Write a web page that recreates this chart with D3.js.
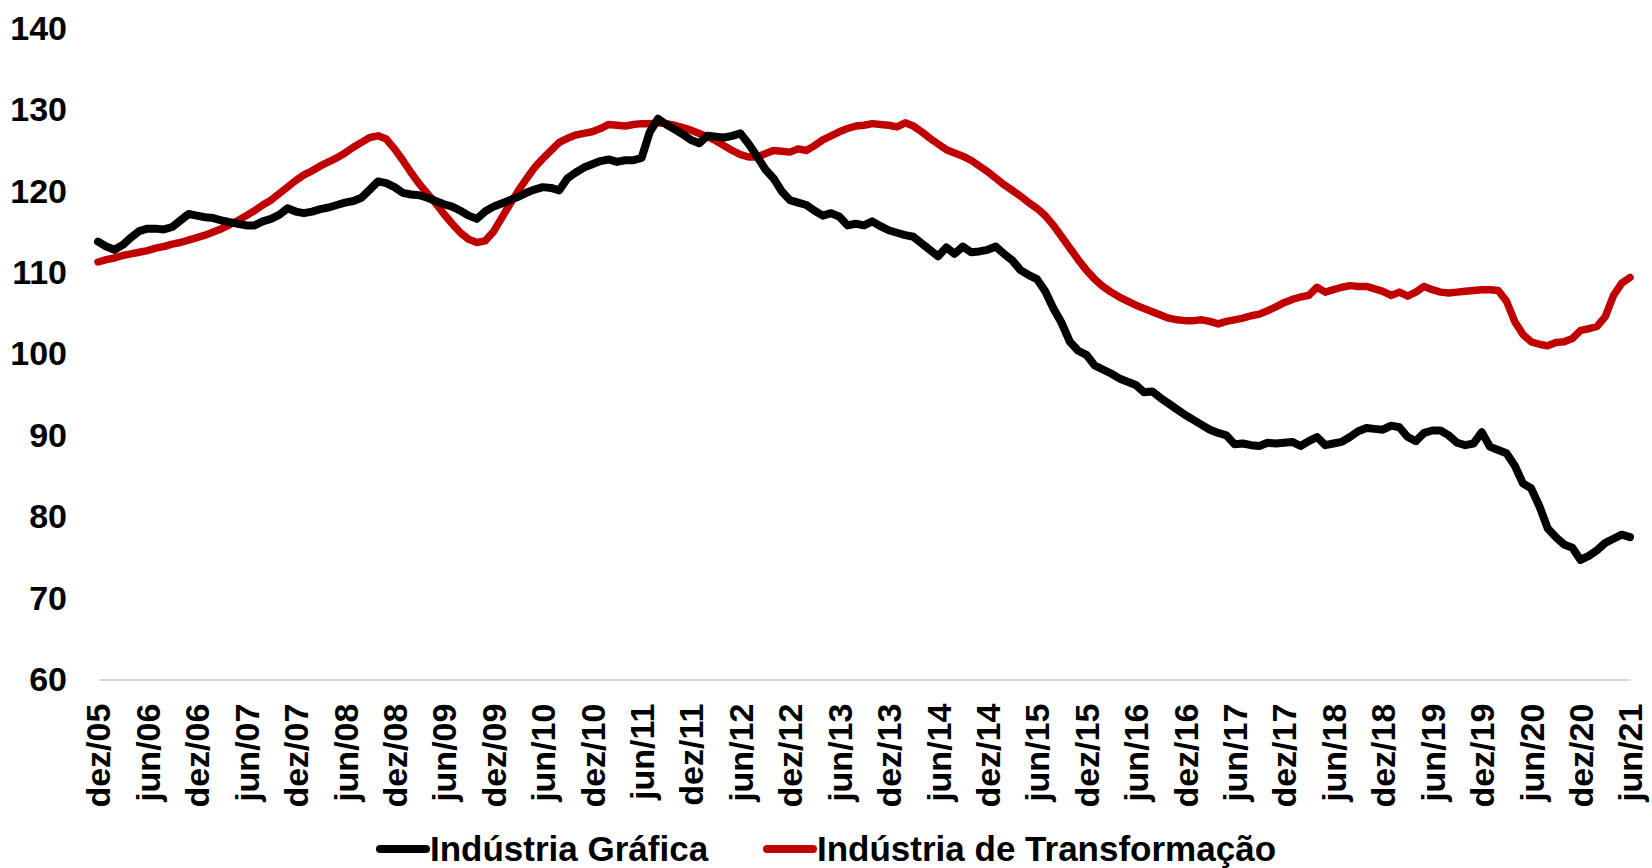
<!DOCTYPE html>
<html>
<head>
<meta charset="utf-8">
<script src="https://cdn.jsdelivr.net/npm/d3@7"></script>
<style>
  body { margin: 0; background: #fff; }
  text { font-family: "Liberation Sans", Arial, sans-serif; font-weight: bold; fill: #000; }
</style>
</head>
<body>
<script>

// monthly index, dez/05 .. jun/21
var graficaValues = [
    113.8, 113.2, 112.8, 113.4, 114.3, 115.1, 115.4, 115.4, 115.3, 115.6, 116.4, 117.2,
    117.0, 116.8, 116.7, 116.4, 116.2, 116.0, 115.8, 115.8, 116.3, 116.6, 117.1, 117.9,
    117.5, 117.3, 117.5, 117.8, 118.0, 118.3, 118.6, 118.8, 119.2, 120.2, 121.2, 121.0,
    120.5, 119.8, 119.6, 119.5, 119.2, 118.8, 118.4, 118.1, 117.6, 117.0, 116.6, 117.5,
    118.1, 118.5, 118.9, 119.3, 119.8, 120.2, 120.5, 120.4, 120.1, 121.6, 122.3, 122.9,
    123.3, 123.7, 123.9, 123.6, 123.8, 123.8, 124.1, 127.3, 128.9, 128.2, 127.6, 127.0,
    126.3, 125.9, 126.8, 126.7, 126.6, 126.8, 127.1, 125.8, 124.3, 122.7, 121.6, 120.0,
    118.9, 118.6, 118.3, 117.6, 117.0, 117.3, 116.9, 115.8, 116.0, 115.8, 116.3, 115.7,
    115.2, 114.9, 114.6, 114.4, 113.6, 112.8, 112.0, 113.1, 112.3, 113.2, 112.5, 112.6,
    112.8, 113.2, 112.3, 111.5, 110.3, 109.7, 109.2, 107.7, 105.6, 103.8, 101.5, 100.4,
    99.9, 98.6, 98.1, 97.6, 97.0, 96.6, 96.2, 95.3, 95.4, 94.6, 93.9, 93.2,
    92.5, 91.9, 91.3, 90.7, 90.3, 90.0, 88.9, 89.0, 88.8, 88.7, 89.1, 89.0,
    89.1, 89.2, 88.7, 89.3, 89.8, 88.8, 89.0, 89.2, 89.8, 90.5, 90.9, 90.8,
    90.7, 91.2, 91.0, 89.8, 89.3, 90.3, 90.6, 90.6, 90.0, 89.1, 88.8, 89.0,
    90.4, 88.6, 88.2, 87.8, 86.3, 84.1, 83.5, 81.3, 78.6, 77.5, 76.6, 76.2,
    74.7, 75.2, 75.9, 76.8, 77.3, 77.8, 77.5
];

var transformacaoValues = [
    111.3, 111.6, 111.8, 112.1, 112.3, 112.5, 112.7, 113.0, 113.2, 113.5, 113.7, 114.0,
    114.3, 114.6, 115.0, 115.4, 115.9, 116.4, 117.0, 117.6, 118.3, 118.9, 119.7, 120.5,
    121.3, 122.0, 122.5, 123.1, 123.6, 124.1, 124.7, 125.4, 126.0, 126.6, 126.8, 126.4,
    125.2, 123.8, 122.3, 120.9, 119.7, 118.5, 117.2, 116.0, 114.9, 114.1, 113.7, 113.9,
    115.0, 116.7, 118.4, 120.0, 121.5, 122.9, 124.0, 125.0, 126.0, 126.5, 126.9, 127.1,
    127.3, 127.7, 128.2, 128.1, 128.0, 128.2, 128.3, 128.3, 128.4, 128.3, 128.1, 127.8,
    127.5, 127.1, 126.7, 126.2, 125.6, 125.0, 124.5, 124.2, 124.2, 124.6, 125.0, 124.9,
    124.8, 125.2, 125.0, 125.6, 126.3, 126.8, 127.3, 127.7, 128.0, 128.1, 128.3, 128.2,
    128.1, 127.9, 128.4, 128.0, 127.3, 126.5, 125.8, 125.1, 124.7, 124.3, 123.8, 123.1,
    122.4, 121.6, 120.8, 120.1, 119.4, 118.6, 117.9, 117.0, 115.8, 114.4, 113.0, 111.6,
    110.3, 109.2, 108.3, 107.6, 107.0, 106.5, 106.0, 105.6, 105.2, 104.8, 104.4, 104.2,
    104.1, 104.1, 104.2, 104.0, 103.7, 104.0, 104.2, 104.4, 104.7, 104.9, 105.3, 105.8,
    106.3, 106.7, 107.0, 107.2, 108.2, 107.6, 107.9, 108.2, 108.4, 108.3, 108.3, 108.0,
    107.7, 107.2, 107.6, 107.1, 107.6, 108.3, 107.9, 107.6, 107.5, 107.6, 107.7, 107.8,
    107.9, 107.9, 107.8, 106.5, 104.0, 102.4, 101.5, 101.2, 101.0, 101.4, 101.5, 101.9,
    102.9, 103.1, 103.4, 104.6, 107.2, 108.7, 109.4
];

var tickLabels = [
    "dez/05", "jun/06", "dez/06", "jun/07", "dez/07", "jun/08", "dez/08", "jun/09",
    "dez/09", "jun/10", "dez/10", "jun/11", "dez/11", "jun/12", "dez/12", "jun/13",
    "dez/13", "jun/14", "dez/14", "jun/15", "dez/15", "jun/16", "dez/16", "jun/17",
    "dez/17", "jun/18", "dez/18", "jun/19", "dez/19", "jun/20", "dez/20", "jun/21"
];

var yTicks = [60, 70, 80, 90, 100, 110, 120, 130, 140];

var seriesNames = ["Indústria Gráfica", "Indústria de Transformação"];
var seriesColors = ["#000000", "#c00000"];

// month categories from dez/05 to jun/21
var monthNames = ["jan", "fev", "mar", "abr", "mai", "jun", "jul", "ago", "set", "out", "nov", "dez"];
var months = [];
for (var i = 0; i < graficaValues.length; i++) {
    var k = 11 + i;
    var yy = 5 + Math.floor(k / 12);
    months.push(monthNames[k % 12] + "/" + (yy < 10 ? "0" + yy : "" + yy));
}

var width = 1652,
    height = 868;

var svg = d3.select("body").append("svg")
    .attr("width", width)
    .attr("height", height);

var x = d3.scalePoint()
    .domain(months)
    .range([98, 1630]);

var y = d3.scaleLinear()
    .domain([60, 140])
    .range([679.6, 28.4]);

// x axis
var xAxis = svg.append("g")
    .attr("transform", "translate(0," + y(60) + ")")
    .call(d3.axisBottom(x).tickValues(tickLabels).tickSize(0).tickSizeOuter(0).tickPadding(0));

xAxis.select(".domain")
    .attr("stroke", "#d9d9d9")
    .attr("stroke-width", 2);

xAxis.selectAll("text")
    .attr("transform", "rotate(-90)")
    .attr("text-anchor", "end")
    .attr("x", -24)
    .attr("y", 0)
    .attr("dy", "0.35em")
    .style("font-size", "34px");

// y axis
var yAxis = svg.append("g")
    .attr("transform", "translate(98,0)")
    .call(d3.axisLeft(y).tickValues(yTicks).tickSize(0).tickPadding(31));

yAxis.select(".domain").remove();
yAxis.selectAll("text")
    .style("font-size", "34px");

// lines
var line = d3.line()
    .x(function(d, i) { return x(months[i]); })
    .y(function(d) { return y(d); });

svg.append("path")
    .datum(transformacaoValues)
    .attr("fill", "none")
    .attr("stroke", seriesColors[1])
    .attr("stroke-width", 7.5)
    .attr("stroke-linejoin", "round")
    .attr("stroke-linecap", "round")
    .attr("d", line);

svg.append("path")
    .datum(graficaValues)
    .attr("fill", "none")
    .attr("stroke", seriesColors[0])
    .attr("stroke-width", 8)
    .attr("stroke-linejoin", "round")
    .attr("stroke-linecap", "round")
    .attr("d", line);

// legend
var legendX = [380, 767];

var legend = svg.selectAll(".legend")
    .data(seriesNames)
    .enter().append("g")
    .attr("class", "legend")
    .attr("transform", function(d, i) { return "translate(" + legendX[i] + ",849)"; });

legend.append("line")
    .attr("x1", 0)
    .attr("x2", 46)
    .attr("stroke", function(d, i) { return seriesColors[i]; })
    .attr("stroke-width", 8)
    .attr("stroke-linecap", "round");

legend.append("text")
    .attr("x", 50)
    .attr("dy", "0.35em")
    .style("font-size", "35px")
    .text(function(d) { return d; });

</script>
</body>
</html>
